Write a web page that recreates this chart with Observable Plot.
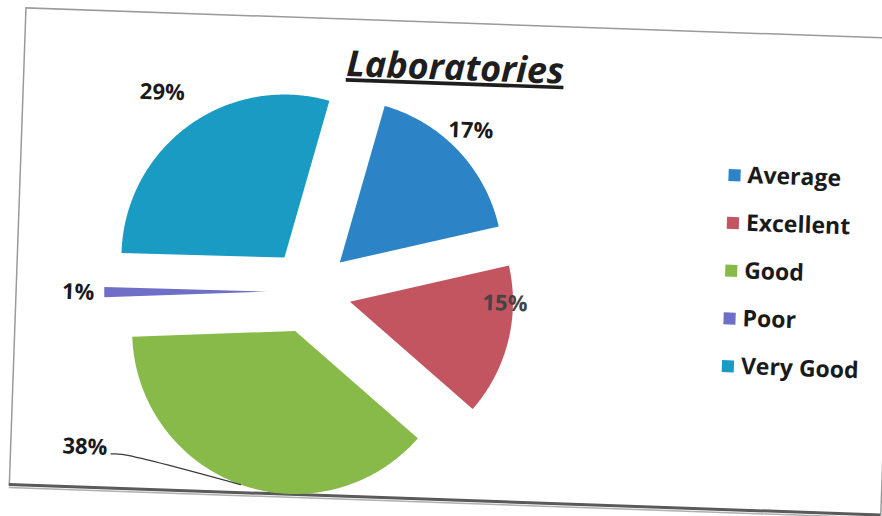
<!DOCTYPE html>
<html>
<head>
<meta charset="utf-8">
<script src="https://cdn.jsdelivr.net/npm/d3@7"></script>
<script src="https://cdn.jsdelivr.net/npm/@observablehq/plot@0.6"></script>
<style>
  html, body { margin: 0; padding: 0; background: #fff; }
  #page { width: 882px; height: 516px; overflow: hidden; position: relative; background: #fff; }
  #chart { position: absolute; left: 0; top: 0; width: 900px; height: 516px; transform: rotate(2deg); transform-origin: 441px 258px; }
  #chart svg { overflow: visible; display: block; max-width: none !important; }
</style>
</head>
<body>
<div id="page"><div id="chart"></div></div>
<script>
// ---- data ----
const title = "Laboratories";
const categories = ["Average", "Excellent", "Good", "Poor", "Very Good"];
const values = [17, 15, 38, 1, 29];
const labels = ["17%", "15%", "38%", "1%", "29%"];
const colors = ["#2C83C6", "#C25560", "#88BA4A", "#6F6FC8", "#1A9BC3"];

// ---- layout (pixels, before the scan tilt) ----
const W = 900, H = 516;
const frame = {left: 17, right: 889, top: 22, bottom: 499};
const cx = 310, cy = 295.5, R = 163;       // pie centre and radius
const explode = 42 / R;                     // every slice pulled out
const startDeg = 14;                        // first slice angle
const defaultLabelR = 1.16;
const labelPlace = {
  Average: {angle: 42.8, r: 1.14},
  Excellent: {angle: 88.7, r: 0.951},
  Good: {angle: 234.25, r: 1.358, leader: true},
  "Very Good": {angle: 321.5, r: 1.26}
};
const legendX = 731, legendTop = 164.5, legendStep = 47.8;
const titlePos = [448, 79];

const toU = (px, py) => [(px - cx) / R, (cy - py) / R];
const pt = (a, r) => [Math.sin(a) * r, Math.cos(a) * r];
const rad = d => d * Math.PI / 180;

const rows = categories.map((c, i) => ({category: c, value: values[i], label: labels[i]}));
const pie = d3.pie().sort(null).value(d => d.value)
  .startAngle(rad(startDeg)).endAngle(rad(startDeg) + 2 * Math.PI);
const arcs = pie(rows);

const slicePts = [];
const labelRows = [];
const leaderPts = [];
arcs.forEach(a => {
  const mid = (a.startAngle + a.endAngle) / 2;
  const [ox, oy] = pt(mid, explode);
  const c = a.data.category;
  slicePts.push({category: c, x: ox, y: oy});
  const n = Math.max(3, Math.ceil((a.endAngle - a.startAngle) / rad(0.5)));
  for (let k = 0; k <= n; k++) {
    const t = a.startAngle + (a.endAngle - a.startAngle) * k / n;
    const [x, y] = pt(t, 1);
    slicePts.push({category: c, x: x + ox, y: y + oy});
  }
  const p = labelPlace[c];
  const ang = p ? rad(p.angle) : mid;
  const r = p ? p.r : defaultLabelR;
  const [lx, ly] = pt(ang, r);
  labelRows.push({category: c, label: a.data.label, x: lx + ox, y: ly + oy, leader: !!(p && p.leader)});
  if (p && p.leader) {
    const [ex, ey] = pt(mid, 1);
    leaderPts.push({x: lx + ox, y: ly + oy});
    leaderPts.push({x: lx + ox + 11 / R, y: ly + oy});
    leaderPts.push({x: ex + ox, y: ey + oy});
  }
});

const legendRows = rows.map((d, i) => {
  const [x, y] = toU(legendX, legendTop + i * legendStep);
  return {...d, x, y};
});
const [tx, ty] = toU(...titlePos);

const xDomain = [toU(frame.left, 0)[0], toU(frame.right, 0)[0]];
const yDomain = [toU(0, frame.bottom)[1], toU(0, frame.top)[1]];

const font = "'Open Sans', Lato, sans-serif";
const plainLabels = labelRows.filter(d => !d.leader);
const leaderLabels = labelRows.filter(d => d.leader);
const svg = Plot.plot({
  width: W, height: H,
  marginLeft: frame.left, marginRight: W - frame.right,
  marginTop: frame.top, marginBottom: H - frame.bottom,
  x: {domain: xDomain, axis: null},
  y: {domain: yDomain, axis: null},
  color: {domain: categories, range: colors},
  style: {fontFamily: font, background: "#fff"},
  marks: [
    Plot.frame({stroke: "#9a9a9a", strokeWidth: 1.5}),
    Plot.ruleY([yDomain[0]], {stroke: "#5a5a5a", strokeWidth: 3}),
    Plot.ruleY([yDomain[0]], {stroke: "#b0b0b0", strokeWidth: 1.5, dy: 3}),
    Plot.line(slicePts, {x: "x", y: "y", z: "category", fill: "category", stroke: null, curve: "linear-closed"}),
    Plot.line(leaderPts, {x: "x", y: "y", stroke: "#3a3a3a", strokeWidth: 1.3, curve: "catmull-rom"}),
    Plot.text(plainLabels, {
      x: "x", y: "y", text: "label",
      fontSize: 22, fontWeight: "bold", fontFamily: font,
      fill: d => d.category === "Excellent" ? "#444" : "#1a1a1a",
      textAnchor: "middle", lineAnchor: "middle"
    }),
    Plot.text(leaderLabels, {
      x: "x", y: "y", text: "label", dx: -4, dy: 1,
      fontSize: 22, fontWeight: "bold", fontFamily: font, fill: "#1a1a1a",
      textAnchor: "end", lineAnchor: "bottom"
    }),
    Plot.dot(legendRows, {x: "x", y: "y", symbol: "square", r: 6.8, fill: "category", stroke: null}),
    Plot.text(legendRows, {
      x: "x", y: "y", text: "category", dx: 13, textAnchor: "start",
      fontSize: 23, fontWeight: "bold", fontFamily: font, fill: "#1a1a1a"
    }),
    Plot.text([title], {
      x: () => tx, y: () => ty, text: d => d, textAnchor: "middle", lineAnchor: "bottom",
      fontSize: 36, fontWeight: "bold", fontStyle: "italic", fontFamily: font, fill: "#1e1e1e"
    })
  ]
});
d3.select(svg).selectAll("text").filter(function() { return this.textContent === title; })
  .style("text-decoration", "underline");
document.getElementById("chart").appendChild(svg);
</script>
</body>
</html>
